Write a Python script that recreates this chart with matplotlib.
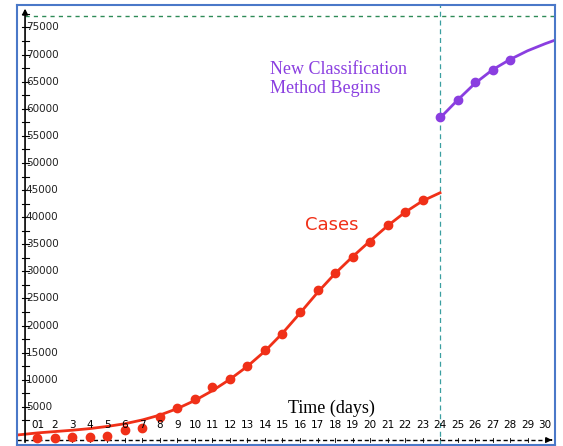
import matplotlib
matplotlib.use("Agg")
import matplotlib.pyplot as plt
import numpy as np

# observed points
case_days = [1, 2, 3, 4, 5, 6, 7, 8, 9, 10, 11, 12, 13, 14, 15, 16, 17, 18, 19, 20, 21, 22, 23]
case_vals = [-700, -700, -600, -500, -400, 700, 1100, 3100, 4800, 6400, 8700, 10100, 12500,
             15500, 18500, 22500, 26600, 29700, 32700, 35400, 38600, 41000, 43200]
new_days = [24, 25, 26, 27, 28]
new_vals = [58500, 61600, 65000, 67200, 69000]

# fitted curves
fit_days = [-0.2, 1, 2, 3, 4, 5, 6, 7, 8, 9, 10, 11, 12, 13, 14, 15, 16, 17, 18, 19, 20, 21, 22, 23, 24]
fit_vals = [-200, 200, 450, 700, 1000, 1400, 1900, 2600, 3500, 4700, 6200, 8000, 10100, 12500,
            15300, 18600, 22300, 26100, 29600, 32700, 35600, 38400, 40900, 43000, 44500]
fit2_days = [24, 25, 26, 27, 28, 29, 30, 30.6]
fit2_vals = [58300, 61600, 64700, 67200, 69100, 70700, 72000, 72700]

ytick_vals = list(range(5000, 80000, 5000))
xtick_vals = list(range(0, 31))

fig = plt.figure(figsize=(5.63, 4.46), dpi=100)
ax = fig.add_axes([17 / 563, 1 / 446, 538 / 563, 440 / 446])
ax.set_xlim(-0.17, 30.57)
ax.set_ylim(-2030, 79150)
ax.set_xticks([]); ax.set_yticks([])
for s in ax.spines.values():
    s.set_color("#4a78c8"); s.set_linewidth(1.5)

x0, y0 = 0.29, -1100
# y axis with arrow
ax.annotate("", xy=(x0, 79000), xytext=(x0, -2030),
            arrowprops=dict(arrowstyle="-|>", color="black", lw=1.2, mutation_scale=8))
for v in range(2500, 78000, 2500):
    ax.plot([x0 - 0.2, x0 + 0.2], [v, v], color="black", lw=0.8)
for v in ytick_vals:
    ax.text(x0 + 0.05, v, str(v), fontsize=7.5, ha="left", va="center", color="#222222")

# x axis dashed with arrow
ax.plot([-0.17, 30.3], [y0, y0], color="black", lw=1, ls=(0, (3, 2)))
ax.annotate("", xy=(30.55, y0), xytext=(30.2, y0),
            arrowprops=dict(arrowstyle="-|>", color="black", lw=1, mutation_scale=8))
for d in xtick_vals[1:]:
    ax.plot([d, d], [y0 - 400, y0 + 400], color="black", lw=0.6)
    ax.text(d, 1700, str(d) if d > 1 else "01", fontsize=7.5, ha="center", va="center")

# reference lines
ax.plot([x0, 30.57], [77200, 77200], color="#2e8b57", lw=1, ls=(0, (3, 3)))
ax.axvline(24, color="#3a9fa0", lw=0.9, ls=(0, (4, 3)))

red = "#f03018"
purple = "#8a3ee0"
ax.plot(fit_days, fit_vals, color=red, lw=2)
ax.plot(case_days, case_vals, "o", color=red, ms=6)
ax.plot(fit2_days, fit2_vals, color=purple, lw=2)
ax.plot(new_days, new_vals, "o", color=purple, ms=6)

ax.text(14.3, 65500, "New Classification\nMethod Begins", color=purple, fontsize=13,
        family="Liberation Serif", va="center", linespacing=1.2)
ax.text(16.3, 38600, "Cases", color=red, fontsize=13, va="center")
ax.text(15.3, 4800, "Time (days)", fontsize=13, family="Liberation Serif", va="center")

fig.savefig("out.png", dpi=100)
